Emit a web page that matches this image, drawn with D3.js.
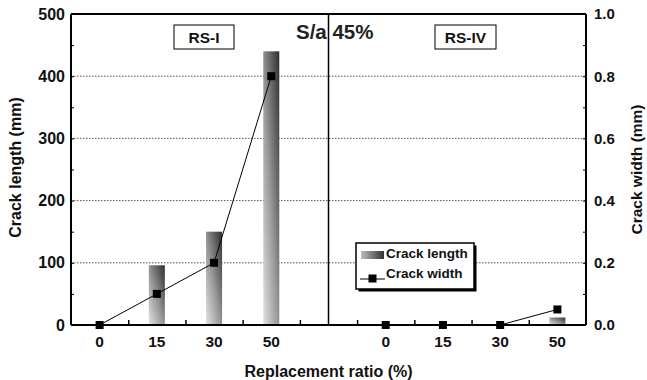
<!DOCTYPE html>
<html>
<head>
<meta charset="utf-8">
<script src="https://cdn.jsdelivr.net/npm/d3@7"></script>
<style>
  body { margin: 0; background: #fff; }
  svg { display: block; font-family: "Liberation Sans", Arial, sans-serif; font-weight: bold; }
</style>
</head>
<body>
<div id="chart"></div>
<script>
// data
let categories = ["0", "15", "30", "50"]
let rs1Length = [0, 96, 150, 440]
let rs1Width = [0, 0.1, 0.2, 0.8]
let rs4Length = [0, 0, 0, 12]
let rs4Width = [0, 0, 0, 0.05]
let lengthTicks = [0, 100, 200, 300, 400, 500]
let widthTicks = [0, 0.2, 0.4, 0.6, 0.8, 1.0]

let width = 647
let height = 380
let margin = { top: 14, right: 61, bottom: 55, left: 71 }

let svg = d3.select("#chart").append("svg")
    .attr("width", width)
    .attr("height", height)

// x: one linear scale for both panels, 9 slots, divider at 4.5
let xScale = d3.scaleLinear().domain([0, 9]).range([margin.left, width - margin.right])
let yLen = d3.scaleLinear().domain([0, 500]).range([height - margin.bottom, margin.top])
let yWid = d3.scaleLinear().domain([0, 1]).range([height - margin.bottom, margin.top])

let panels = [
    { name: "RS-I", offset: 0.5, len: rs1Length, wid: rs1Width },
    { name: "RS-IV", offset: 5.5, len: rs4Length, wid: rs4Width }
]

// gradient for bars
let defs = svg.append("defs")
let grad = defs.append("linearGradient")
    .attr("id", "barGrad")
    .attr("x1", "0").attr("y1", "1").attr("x2", "1").attr("y2", "0")
grad.append("stop").attr("offset", "0%").attr("stop-color", "#e2e2e2")
grad.append("stop").attr("offset", "45%").attr("stop-color", "#9a9a9a")
grad.append("stop").attr("offset", "100%").attr("stop-color", "#2e2e2e")

// dotted grid
svg.append("g").selectAll("line")
    .data(lengthTicks.slice(1, -1))
    .join("line")
    .attr("x1", margin.left).attr("x2", width - margin.right)
    .attr("y1", d => yLen(d)).attr("y2", d => yLen(d))
    .attr("stroke", "#555")
    .attr("stroke-width", 1)
    .attr("stroke-dasharray", "1.5,1.5")

// bars
let barW = xScale(0.28) - xScale(0)
panels.forEach(p => {
    svg.append("g").selectAll("rect")
        .data(p.len.map((v, i) => ({ v: v, i: i })).filter(d => d.v > 0))
        .join("rect")
        .attr("x", d => xScale(d.i + p.offset) - barW / 2)
        .attr("y", d => yLen(d.v))
        .attr("width", barW)
        .attr("height", d => yLen(0) - yLen(d.v))
        .attr("fill", "url(#barGrad)")
})

// frame: top border, divider
svg.append("line")
    .attr("x1", margin.left).attr("x2", width - margin.right)
    .attr("y1", margin.top).attr("y2", margin.top)
    .attr("stroke", "#000").attr("stroke-width", 2)
svg.append("line")
    .attr("x1", xScale(4.5)).attr("x2", xScale(4.5))
    .attr("y1", margin.top).attr("y2", yLen(0))
    .attr("stroke", "#000").attr("stroke-width", 1.5)

// left axis
let leftAxis = svg.append("g")
    .attr("transform", "translate(" + margin.left + ",0)")
    .call(d3.axisLeft(yLen).tickValues(lengthTicks).tickSize(-3).tickPadding(6))
leftAxis.append("g")
    .call(d3.axisLeft(yLen).tickValues([50, 150, 250, 350, 450]).tickSize(-3).tickFormat(""))
leftAxis.selectAll(".domain").attr("d", "M0," + yLen(0) + "V" + margin.top).attr("stroke-width", 2)
leftAxis.selectAll("text").attr("font-size", 16).attr("font-family", "Liberation Sans").attr("font-weight", "bold").attr("fill", "#111")

// right axis
let rightAxis = svg.append("g")
    .attr("transform", "translate(" + (width - margin.right) + ",0)")
    .call(d3.axisRight(yWid).tickValues(widthTicks).tickSize(-3).tickPadding(8).tickFormat(d3.format(".1f")))
rightAxis.append("g")
    .call(d3.axisRight(yWid).tickValues([0.1, 0.3, 0.5, 0.7, 0.9]).tickSize(-3).tickFormat(""))
rightAxis.selectAll(".domain").attr("d", "M0," + yWid(0) + "V" + margin.top).attr("stroke-width", 2)
rightAxis.selectAll("text").attr("font-size", 15).attr("font-family", "Liberation Sans").attr("font-weight", "bold").attr("fill", "#111")

// bottom axis
let xTicks = [1, 2, 3, 4, 5, 6, 7, 8]
let bottomAxis = svg.append("g")
    .attr("transform", "translate(0," + yLen(0) + ")")
    .call(d3.axisBottom(xScale).tickValues(xTicks).tickSize(-5).tickFormat(""))
bottomAxis.selectAll(".domain").attr("d", "M" + margin.left + ",0H" + (width - margin.right)).attr("stroke-width", 2)
bottomAxis.selectAll(".tick line").attr("stroke-width", 1.5)

panels.forEach(p => {
    svg.append("g").selectAll("text")
        .data(categories)
        .join("text")
        .attr("x", (d, i) => xScale(i + p.offset))
        .attr("y", yLen(0) + 21.5)
        .attr("text-anchor", "middle")
        .attr("font-size", 15.5)
        .attr("fill", "#111")
        .text(d => d)
})

// crack width lines + markers
let line = d3.line()
panels.forEach(p => {
    let pts = p.wid.map((v, i) => [xScale(i + p.offset), yWid(v)])
    svg.append("path")
        .attr("d", line(pts))
        .attr("fill", "none")
        .attr("stroke", "#000")
        .attr("stroke-width", 1)
    svg.append("g").selectAll("rect")
        .data(pts)
        .join("rect")
        .attr("x", d => d[0] - 4)
        .attr("y", d => d[1] - 4)
        .attr("width", 8)
        .attr("height", 8)
        .attr("fill", "#000")
})

// panel labels
let boxes = [
    { text: "RS-I", x: 174, w: 60 },
    { text: "RS-IV", x: 435, w: 61 }
]
boxes.forEach(b => {
    svg.append("rect")
        .attr("x", b.x).attr("y", 25)
        .attr("width", b.w).attr("height", 24)
        .attr("fill", "#fff")
        .attr("stroke", "#000")
        .attr("stroke-width", 1)
    svg.append("text")
        .attr("x", b.x + b.w / 2).attr("y", 42.5)
        .attr("text-anchor", "middle")
        .attr("font-size", 15.5)
        .attr("fill", "#111")
        .text(b.text)
})

svg.append("text")
    .attr("x", 296).attr("y", 39)
    .attr("font-size", 20.5)
    .attr("fill", "#222")
    .attr("xml:space", "preserve")
    .text("S/a 45%")

// axis titles
svg.append("text")
    .attr("transform", "translate(21," + ((margin.top + yLen(0)) / 2 - 2) + ") rotate(-90)")
    .attr("text-anchor", "middle")
    .attr("font-size", 16)
    .attr("fill", "#111")
    .text("Crack length (mm)")
svg.append("text")
    .attr("transform", "translate(642," + ((margin.top + yLen(0)) / 2) + ") rotate(-90)")
    .attr("text-anchor", "middle")
    .attr("font-size", 15.5)
    .attr("fill", "#111")
    .text("Crack width (mm)")
svg.append("text")
    .attr("x", xScale(4.5)).attr("y", 377)
    .attr("text-anchor", "middle")
    .attr("font-size", 16)
    .attr("fill", "#111")
    .text("Replacement ratio (%)")

// legend
let lg = svg.append("g").attr("transform", "translate(356,243)")
lg.append("rect")
    .attr("x", 2.5).attr("y", 2.5).attr("width", 118).attr("height", 46)
    .attr("fill", "#000")
lg.append("rect")
    .attr("x", 0).attr("y", 0).attr("width", 118).attr("height", 46)
    .attr("fill", "#fff").attr("stroke", "#000").attr("stroke-width", 1.5)
let lgGrad = defs.append("linearGradient")
    .attr("id", "legGrad")
    .attr("x1", "0").attr("y1", "0").attr("x2", "1").attr("y2", "0")
lgGrad.append("stop").attr("offset", "0%").attr("stop-color", "#bdbdbd")
lgGrad.append("stop").attr("offset", "100%").attr("stop-color", "#333")
lg.append("rect")
    .attr("x", 5).attr("y", 8).attr("width", 23).attr("height", 8)
    .attr("fill", "url(#legGrad)")
lg.append("text")
    .attr("x", 30).attr("y", 15)
    .attr("font-size", 13.5)
    .attr("fill", "#111")
    .text("Crack length")
lg.append("line")
    .attr("x1", 4).attr("x2", 29).attr("y1", 36).attr("y2", 36)
    .attr("stroke", "#000").attr("stroke-width", 1)
lg.append("rect")
    .attr("x", 12.5).attr("y", 31.5).attr("width", 8).attr("height", 8)
    .attr("fill", "#000")
lg.append("text")
    .attr("x", 30).attr("y", 35)
    .attr("font-size", 13.5)
    .attr("fill", "#111")
    .text("Crack width")
</script>
</body>
</html>
